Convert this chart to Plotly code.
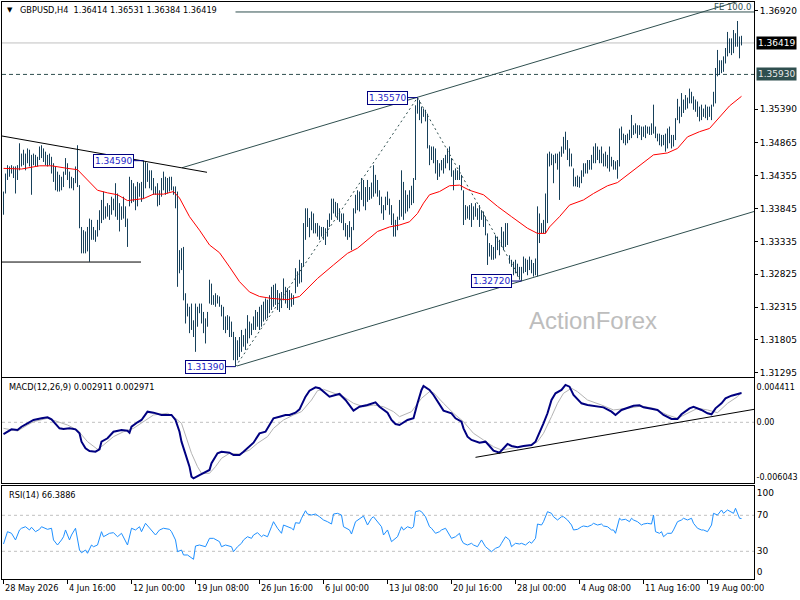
import plotly.graph_objects as go

# ---- data (bar index 0 = 28 May 2026 08:00, H4 bars) ----
highs = [
    1.3411, 1.3439, 1.3452, 1.3450, 1.3452, 1.3450, 1.3450, 1.3452, 1.3486, 1.3470,
    1.3476, 1.3470, 1.3478, 1.3476, 1.3468, 1.3470, 1.3468, 1.3465, 1.3481, 1.3483,
    1.3478, 1.3473, 1.3468, 1.3470, 1.3465, 1.3455, 1.3450, 1.3442, 1.3437, 1.3434,
    1.3442, 1.3463, 1.3455, 1.3442, 1.3434, 1.3432, 1.3450, 1.3483, 1.3421, 1.3356,
    1.3351, 1.3349, 1.3356, 1.3369, 1.3367, 1.3356, 1.3351, 1.3367, 1.3382, 1.3398,
    1.3411, 1.3388, 1.3393, 1.3390, 1.3403, 1.3400, 1.3424, 1.3408, 1.3393, 1.3388,
    1.3403, 1.3388, 1.3369, 1.3434, 1.3429, 1.3424, 1.3419, 1.3426, 1.3424, 1.3426,
    1.3459, 1.3457, 1.3455, 1.3444, 1.3444, 1.3432, 1.3419, 1.3424, 1.3413, 1.3432,
    1.3442, 1.3434, 1.3432, 1.3434, 1.3434, 1.3419, 1.3419, 1.3411, 1.3320, 1.3323,
    1.3325, 1.3253, 1.3237, 1.3232, 1.3237, 1.3211, 1.3237, 1.3232, 1.3237, 1.3237,
    1.3224, 1.3214, 1.3224, 1.3274, 1.3268, 1.3250, 1.3253, 1.3250, 1.3248, 1.3235,
    1.3232, 1.3217, 1.3219, 1.3217, 1.3209, 1.3193, 1.3185, 1.3180, 1.3185, 1.3196,
    1.3188, 1.3198, 1.3219, 1.3209, 1.3206, 1.3217, 1.3227, 1.3224, 1.3232, 1.3235,
    1.3240, 1.3245, 1.3243, 1.3250, 1.3263, 1.3266, 1.3268, 1.3258, 1.3253, 1.3255,
    1.3276, 1.3263, 1.3261, 1.3258, 1.3253, 1.3250, 1.3292, 1.3287, 1.3305, 1.3300,
    1.3362, 1.3385, 1.3385, 1.3370, 1.3380, 1.3377, 1.3362, 1.3362, 1.3358, 1.3356,
    1.3356, 1.3354, 1.3367, 1.3377, 1.3400, 1.3400, 1.3395, 1.3393, 1.3385, 1.3377,
    1.3377, 1.3362, 1.3359, 1.3365, 1.3356, 1.3385, 1.3406, 1.3413, 1.3411, 1.3432,
    1.3429, 1.3418, 1.3429, 1.3418, 1.3425, 1.3452, 1.3437, 1.3429, 1.3413, 1.3403,
    1.3390, 1.3403, 1.3411, 1.3400, 1.3390, 1.3377, 1.3367, 1.3372, 1.3398, 1.3444,
    1.3426, 1.3413, 1.3406, 1.3413, 1.3420, 1.3432, 1.3545, 1.3557, 1.3553, 1.3543,
    1.3540, 1.3538, 1.3532, 1.3483, 1.3481, 1.3481, 1.3478, 1.3460, 1.3455, 1.3460,
    1.3463, 1.3468, 1.3478, 1.3481, 1.3463, 1.3444, 1.3447, 1.3444, 1.3452, 1.3437,
    1.3413, 1.3390, 1.3388, 1.3390, 1.3393, 1.3388, 1.3393, 1.3385, 1.3390, 1.3382,
    1.3380, 1.3372, 1.3346, 1.3331, 1.3328, 1.3325, 1.3343, 1.3341, 1.3336, 1.3356,
    1.3349, 1.3362, 1.3362, 1.3312, 1.3305, 1.3302, 1.3305, 1.3299, 1.3294, 1.3294,
    1.3310, 1.3307, 1.3305, 1.3310, 1.3305, 1.3300, 1.3307, 1.3388, 1.3377, 1.3362,
    1.3367, 1.3408, 1.3470, 1.3473, 1.3470, 1.3468, 1.3470, 1.3470, 1.3473, 1.3481,
    1.3496, 1.3504, 1.3491, 1.3478, 1.3470, 1.3447, 1.3434, 1.3436, 1.3434, 1.3444,
    1.3455, 1.3455, 1.3460, 1.3460, 1.3468, 1.3481, 1.3486, 1.3481, 1.3476, 1.3481,
    1.3470, 1.3473, 1.3468, 1.3481, 1.3465, 1.3460, 1.3458, 1.3460, 1.3509, 1.3512,
    1.3501, 1.3499, 1.3501, 1.3507, 1.3530, 1.3514, 1.3517, 1.3514, 1.3514, 1.3512,
    1.3512, 1.3514, 1.3512, 1.3512, 1.3517, 1.3546, 1.3512, 1.3501, 1.3501, 1.3499,
    1.3499, 1.3501, 1.3509, 1.3512, 1.3499, 1.3499, 1.3525, 1.3555, 1.3543, 1.3564,
    1.3554, 1.3561, 1.3557, 1.3571, 1.3566, 1.3559, 1.3554, 1.3551, 1.3543, 1.3546,
    1.3540, 1.3546, 1.3543, 1.3543, 1.3546, 1.3566, 1.3603, 1.3631, 1.3615, 1.3615,
    1.3621, 1.3634, 1.3659, 1.3649, 1.3649, 1.3662, 1.3657, 1.3676, 1.3652, 1.3653,
]
lows = [
    1.3375, 1.3408, 1.3429, 1.3434, 1.3439, 1.3432, 1.3408, 1.3429, 1.3444, 1.3450,
    1.3452, 1.3444, 1.3455, 1.3450, 1.3406, 1.3452, 1.3450, 1.3450, 1.3460, 1.3463,
    1.3457, 1.3452, 1.3450, 1.3452, 1.3439, 1.3426, 1.3413, 1.3411, 1.3411, 1.3413,
    1.3418, 1.3437, 1.3429, 1.3416, 1.3416, 1.3413, 1.3424, 1.3418, 1.3354, 1.3315,
    1.3315, 1.3315, 1.3318, 1.3302, 1.3336, 1.3336, 1.3333, 1.3341, 1.3351, 1.3362,
    1.3367, 1.3369, 1.3372, 1.3367, 1.3375, 1.3382, 1.3372, 1.3367, 1.3349, 1.3367,
    1.3369, 1.3356, 1.3325, 1.3388, 1.3393, 1.3395, 1.3382, 1.3388, 1.3403, 1.3395,
    1.3400, 1.3416, 1.3426, 1.3416, 1.3413, 1.3406, 1.3406, 1.3388, 1.3390, 1.3403,
    1.3413, 1.3406, 1.3408, 1.3411, 1.3413, 1.3406, 1.3385, 1.3263, 1.3284, 1.3289,
    1.3242, 1.3206, 1.3217, 1.3191, 1.3196, 1.3185, 1.3162, 1.3201, 1.3222, 1.3206,
    1.3191, 1.3175, 1.3201, 1.3237, 1.3235, 1.3235, 1.3232, 1.3237, 1.3232, 1.3217,
    1.3196, 1.3191, 1.3196, 1.3185, 1.3185, 1.3149, 1.3139, 1.3149, 1.3154, 1.3162,
    1.3170, 1.3165, 1.3175, 1.3183, 1.3188, 1.3196, 1.3196, 1.3201, 1.3196, 1.3201,
    1.3209, 1.3212, 1.3214, 1.3222, 1.3227, 1.3232, 1.3235, 1.3227, 1.3224, 1.3230,
    1.3242, 1.3237, 1.3230, 1.3227, 1.3232, 1.3235, 1.3253, 1.3263, 1.3268, 1.3270,
    1.3294, 1.3336, 1.3356, 1.3340, 1.3351, 1.3346, 1.3346, 1.3341, 1.3336, 1.3341,
    1.3336, 1.3328, 1.3341, 1.3356, 1.3367, 1.3377, 1.3372, 1.3367, 1.3364, 1.3362,
    1.3351, 1.3341, 1.3336, 1.3340, 1.3320, 1.3351, 1.3377, 1.3382, 1.3380, 1.3398,
    1.3388, 1.3382, 1.3395, 1.3398, 1.3400, 1.3403, 1.3408, 1.3403, 1.3390, 1.3377,
    1.3367, 1.3382, 1.3390, 1.3375, 1.3359, 1.3341, 1.3341, 1.3351, 1.3367, 1.3372,
    1.3367, 1.3377, 1.3380, 1.3385, 1.3390, 1.3393, 1.3429, 1.3532, 1.3522, 1.3517,
    1.3527, 1.3520, 1.3478, 1.3452, 1.3460, 1.3455, 1.3439, 1.3429, 1.3434, 1.3444,
    1.3439, 1.3447, 1.3455, 1.3444, 1.3434, 1.3413, 1.3429, 1.3429, 1.3429, 1.3413,
    1.3359, 1.3367, 1.3369, 1.3367, 1.3356, 1.3367, 1.3372, 1.3367, 1.3356, 1.3367,
    1.3356, 1.3343, 1.3297, 1.3310, 1.3305, 1.3305, 1.3307, 1.3320, 1.3312, 1.3325,
    1.3320, 1.3325, 1.3328, 1.3299, 1.3294, 1.3281, 1.3284, 1.3279, 1.3274, 1.3272,
    1.3284, 1.3286, 1.3281, 1.3289, 1.3284, 1.3279, 1.3281, 1.3279, 1.3331, 1.3346,
    1.3346, 1.3346, 1.3362, 1.3450, 1.3452, 1.3424, 1.3455, 1.3445, 1.3398, 1.3465,
    1.3470, 1.3476, 1.3460, 1.3450, 1.3450, 1.3419, 1.3419, 1.3418, 1.3417, 1.3424,
    1.3434, 1.3439, 1.3439, 1.3445, 1.3445, 1.3455, 1.3455, 1.3460, 1.3455, 1.3455,
    1.3450, 1.3450, 1.3447, 1.3442, 1.3450, 1.3445, 1.3445, 1.3431, 1.3450, 1.3491,
    1.3486, 1.3483, 1.3486, 1.3491, 1.3494, 1.3499, 1.3501, 1.3494, 1.3499, 1.3491,
    1.3496, 1.3494, 1.3501, 1.3499, 1.3499, 1.3501, 1.3494, 1.3489, 1.3483, 1.3481,
    1.3483, 1.3473, 1.3478, 1.3486, 1.3478, 1.3481, 1.3491, 1.3522, 1.3517, 1.3527,
    1.3533, 1.3538, 1.3540, 1.3548, 1.3548, 1.3538, 1.3535, 1.3527, 1.3520, 1.3522,
    1.3527, 1.3525, 1.3522, 1.3527, 1.3522, 1.3543, 1.3548, 1.3590, 1.3592, 1.3595,
    1.3597, 1.3610, 1.3621, 1.3626, 1.3623, 1.3626, 1.3636, 1.3636, 1.3618, 1.3638,
]

# red moving average
ma_idx = [0, 9, 18, 24, 32, 37, 42, 47, 52, 57, 62, 65, 70, 75, 80, 85, 88, 93, 98, 103,
          108, 113, 118, 123, 128, 134, 142, 148, 157, 165, 172, 177, 182, 187, 193, 198, 203, 207, 210, 213,
          218, 223, 228, 233, 240, 247, 254, 262, 267, 271, 273, 278, 283, 290, 295, 302, 307, 312, 318, 325,
          332, 337, 342, 348, 353, 358, 363, 369]
ma_val = [1.3447, 1.3446, 1.3451, 1.3451, 1.3447, 1.3445, 1.3429, 1.3413, 1.3409, 1.3406,
          1.3397, 1.3398, 1.3400, 1.3407, 1.3407, 1.3411, 1.3401, 1.3372, 1.3351, 1.3328,
          1.3316, 1.3294, 1.3271, 1.3255, 1.3248, 1.3245, 1.3243, 1.3248, 1.3276, 1.3297,
          1.3315, 1.3323, 1.3336, 1.3349, 1.3356, 1.3359, 1.3364, 1.3377, 1.3393, 1.3406,
          1.3411, 1.3420, 1.3421, 1.3413, 1.3406, 1.3388, 1.3372, 1.3354, 1.3346, 1.3346,
          1.3356, 1.3372, 1.3390, 1.3398, 1.3408, 1.3420, 1.3425, 1.3437, 1.3452, 1.3468,
          1.3471, 1.3478, 1.3496, 1.3504, 1.3509, 1.3527, 1.3544, 1.3559]

# MACD(12,26,9) main line and signal
macd_idx = [0, 2, 4, 7, 9, 12, 15, 19, 22, 24, 26, 28, 30, 33, 36, 38, 39, 41, 43, 46,
            48, 49, 52, 55, 59, 62, 63, 64, 67, 69, 72, 75, 79, 82, 84, 86, 88, 89, 91, 93,
            94, 95, 98, 101, 103, 104, 107, 109, 113, 115, 118, 120, 123, 125, 128, 131, 133, 135, 138, 141,
            143, 146, 148, 151, 153, 156, 158, 161, 163, 166, 168, 171, 175, 178, 182, 186, 188, 192, 194, 196,
            198, 202, 205, 207, 209, 210, 213, 215, 218, 220, 224, 226, 229, 230, 232, 234, 238, 241, 243, 245,
            248, 250, 252, 254, 257, 260, 264, 266, 268, 270, 272, 274, 276, 279, 281, 283, 285, 289, 292, 297,
            300, 304, 306, 309, 312, 315, 318, 320, 324, 327, 330, 334, 337, 339, 343, 345, 349, 352, 354, 356,
            359, 361, 364, 367, 369]
macd_val = [-0.00117, -0.00094, -0.00070, -0.00077, -0.00044, -0.00010, 0.00023, 0.00040, 0.00050, 0.00030,
            -0.00010, -0.00060, -0.00067, -0.00060, -0.00070, -0.00110, -0.00193, -0.00259, -0.00286, -0.00293,
            -0.00269, -0.00193, -0.00159, -0.00094, -0.00077, -0.00084, -0.00104, -0.00044, 0.00000, 0.00023,
            0.00106, 0.00096, 0.00073, 0.00073, 0.00073, 0.00023, -0.00094, -0.00193, -0.00309, -0.00442,
            -0.00542, -0.00558, -0.00525, -0.00492, -0.00475, -0.00408, -0.00309, -0.00293, -0.00303, -0.00326,
            -0.00326, -0.00293, -0.00243, -0.00203, -0.00110, -0.00094, -0.00027, 0.00040, 0.00056, 0.00073,
            0.00073, 0.00096, 0.00129, 0.00255, 0.00315, 0.00349, 0.00339, 0.00289, 0.00255, 0.00272,
            0.00282, 0.00222, 0.00116, 0.00155, 0.00172, 0.00199, 0.00155, 0.00096, 0.00023, -0.00017,
            -0.00027, 0.00023, 0.00040, 0.00189, 0.00322, 0.00362, 0.00322, 0.00272, 0.00172, 0.00116,
            0.00090, 0.00040, 0.00006, -0.00060, -0.00143, -0.00176, -0.00203, -0.00193, -0.00236, -0.00283,
            -0.00303, -0.00259, -0.00216, -0.00236, -0.00249, -0.00236, -0.00226, -0.00193, -0.00110, -0.00010,
            0.00090, 0.00222, 0.00289, 0.00322, 0.00372, 0.00355, 0.00272, 0.00189, 0.00172, 0.00162,
            0.00149, 0.00106, 0.00073, 0.00123, 0.00145, 0.00165, 0.00169, 0.00149, 0.00135, 0.00123,
            0.00073, 0.00033, 0.00033, 0.00080, 0.00139, 0.00155, 0.00123, 0.00090, 0.00080, 0.00139,
            0.00189, 0.00239, 0.00265, 0.00282, 0.00291]
sig_idx = [0, 7, 12, 15, 22, 26, 32, 37, 42, 47, 50, 55, 60, 65, 70, 75, 82, 85, 89, 91,
           94, 97, 99, 103, 106, 109, 113, 118, 123, 127, 132, 135, 140, 145, 149, 154, 157, 160, 165, 170,
           175, 180, 185, 190, 195, 198, 204, 209, 213, 215, 220, 225, 230, 235, 240, 245, 249, 254, 259, 264,
           267, 270, 274, 277, 280, 284, 287, 292, 299, 305, 312, 319, 325, 332, 337, 342, 347, 352, 357, 362,
           367, 369]
sig_val = [-0.00060, -0.00087, -0.00027, 0.00006, 0.00040, 0.00016, -0.00027, -0.00077, -0.00193, -0.00269,
           -0.00226, -0.00143, -0.00094, -0.00060, 0.00006, 0.00073, 0.00090, 0.00056, -0.00010, -0.00126,
           -0.00309, -0.00442, -0.00508, -0.00508, -0.00442, -0.00359, -0.00309, -0.00316, -0.00276, -0.00209,
           -0.00143, -0.00060, 0.00023, 0.00073, 0.00106, 0.00222, 0.00315, 0.00329, 0.00289, 0.00255,
           0.00189, 0.00155, 0.00172, 0.00155, 0.00106, 0.00056, 0.00106, 0.00239, 0.00305, 0.00295,
           0.00189, 0.00090, 0.00006, -0.00110, -0.00176, -0.00243, -0.00276, -0.00259, -0.00249, -0.00226,
           -0.00193, -0.00110, 0.00056, 0.00189, 0.00289, 0.00339, 0.00305, 0.00222, 0.00172, 0.00123,
           0.00139, 0.00162, 0.00139, 0.00073, 0.00040, 0.00090, 0.00139, 0.00123, 0.00096, 0.00189,
           0.00255, 0.00297]

# RSI(14)
rsi_idx = [0, 2, 4, 6, 8, 9, 11, 13, 14, 16, 18, 19, 22, 24, 25, 27, 29, 30, 31, 33,
           34, 36, 38, 39, 41, 42, 44, 45, 47, 49, 50, 53, 55, 57, 59, 60, 62, 64, 66, 68,
           69, 71, 73, 74, 76, 78, 80, 83, 84, 86, 87, 89, 90, 92, 93, 95, 96, 98, 101, 103,
           105, 108, 109, 111, 114, 115, 117, 119, 120, 122, 124, 125, 127, 129, 130, 132, 134, 135, 137, 139,
           140, 142, 144, 145, 146, 148, 149, 151, 152, 154, 156, 158, 160, 162, 164, 165, 167, 169, 170, 173,
           174, 176, 178, 180, 182, 184, 185, 187, 189, 190, 192, 194, 197, 198,
           199, 200, 202, 204, 205, 206, 208, 209, 211, 213, 214, 216, 218, 219, 221, 223, 224, 226, 228, 229,
           230, 232, 234, 235, 237, 238, 239, 241, 243, 244, 246, 248, 249, 251, 253, 254, 256, 258, 259, 261,
           263, 264, 266, 267, 269, 270, 272, 274, 275, 277, 279, 280, 282, 284, 285, 287, 289, 290, 292, 294,
           295, 297, 299, 300, 302, 304, 305, 306, 308, 309, 311, 313, 314, 315, 317, 319, 320, 322, 324, 325,
           326, 328, 329, 330, 332, 334, 335, 337, 339, 340, 342, 344, 345, 347, 349, 350, 352, 354, 355, 357,
           359, 360, 362, 364, 365, 366, 368, 369]
rsi_val = [38.1, 51.8, 50.0, 42.6, 53.7, 55.6, 57.3, 53.7, 56.7, 51.8, 54.4, 57.3, 54.4, 55.6, 42.6, 37.0, 42.6, 46.2, 53.7, 42.6,
           48.1, 55.6, 31.4, 28.4, 31.4, 27.8, 37.0, 35.1, 37.0, 51.8, 46.2, 50.0, 50.7, 46.2, 50.0, 46.2, 37.0, 55.6, 53.7, 57.3,
           51.8, 61.1, 55.6, 53.7, 48.1, 53.7, 55.6, 54.4, 51.8, 42.6, 29.6, 31.4, 25.9, 25.9, 24.0, 21.1, 35.9, 37.0, 35.1, 44.4,
           44.4, 40.7, 35.1, 37.0, 35.1, 29.6, 35.1, 38.9, 42.6, 46.2, 44.4, 48.1, 50.7, 46.2, 48.1, 46.2, 57.3, 62.9, 55.6, 50.0,
           59.2, 57.3, 55.6, 53.7, 61.8, 61.1, 66.7, 75.1, 71.4, 70.3, 71.4, 68.4, 64.8, 62.9, 60.3, 71.4, 72.2, 70.3, 57.3, 53.7,
           49.2, 62.9, 65.6, 69.2, 59.2, 66.7, 68.4, 62.9, 57.3, 48.1, 53.7, 40.7, 46.2, 51.8,
           57.3, 53.7, 57.3, 55.6, 57.3, 74.0, 75.1, 74.0, 68.4, 57.3, 55.6, 50.0, 51.8, 53.7, 55.6, 48.1, 44.4, 46.2, 50.0, 42.6,
           38.9, 37.0, 38.9, 37.0, 35.1, 38.9, 42.6, 35.1, 31.4, 29.6, 33.3, 35.1, 38.9, 46.2, 42.6, 35.1, 38.9, 38.1, 38.9, 37.0,
           40.7, 38.9, 44.4, 60.3, 59.2, 62.9, 74.0, 72.2, 68.4, 64.8, 68.4, 68.4, 64.8, 59.2, 53.7, 54.4, 57.3, 58.1, 57.3, 59.2,
           61.1, 59.2, 60.3, 58.1, 57.3, 53.7, 53.7, 50.0, 66.7, 64.8, 65.6, 62.9, 66.7, 64.8, 62.9, 59.2, 60.3, 61.1, 60.3, 70.3,
           51.8, 50.0, 51.8, 46.2, 50.0, 50.0, 53.7, 62.9, 64.8, 66.7, 64.8, 66.7, 61.1, 55.6, 53.7, 53.7, 51.8, 59.2, 72.2, 70.3,
           75.9, 72.2, 75.9, 74.0, 72.2, 77.8, 66.7, 66.4]

# swing labels (bar index, price)
swing_idx = [70, 207, 259, 116]
swing_px = [1.34590, 1.35570, 1.32720, 1.31390]

# drawn objects: (x0, y0, x1, y1)
channel_upper = (89.25, 1.3448, 375.25, 1.3714)
channel_lower = (116.75, 1.3140, 375.25, 1.3380)
falling_line = (-0.75, 1.34973, 101.75, 1.34409)
support_line = (-0.75, 1.33015, 68.75, 1.33015)
fe_level = 1.3690
fe_start = 116
macd_trend = (236, -0.00349, 375.25, 0.00129)
bid = 1.36419
level = 1.35930

price_ticks = [1.36920, 1.35390, 1.34865, 1.34355, 1.33845, 1.33335, 1.32825, 1.32315, 1.31805, 1.31295]
time_idx = [0, 32, 64, 96, 128, 160, 192, 224, 256, 288, 320, 352]
time_text = ["28 May 2026", "4 Jun 16:00", "12 Jun 00:00", "19 Jun 08:00", "26 Jun 16:00", "6 Jul 00:00",
             "13 Jul 08:00", "20 Jul 16:00", "28 Jul 00:00", "4 Aug 08:00", "11 Aug 16:00", "19 Aug 00:00"]

# ---- layout geometry (pixels) ----
W, H = 800, 600
ML, MR, MT, MB = 2, 46, 2, 21
PW, PH = W - ML - MR, H - MT - MB
XR = [-0.75, 375.25]
FONT = "DejaVu Sans"
DSG = "#2f4f4f"
TXT = 8.2


def px_x(p):
    return (p - ML) / PW


def px_y(p):
    return (H - MB - p) / PH


fig = go.Figure()


def seg(x0, y0, x1, y1, color, width=1, dash="solid", ax=("x", "y")):
    fig.add_trace(go.Scatter(x=[x0, x1], y=[y0, y1], mode="lines", xaxis=ax[0], yaxis=ax[1],
                             line=dict(color=color, width=width, dash=dash), hoverinfo="skip"))


# price bars (high-low)
bx, by = [], []
for i, (lo, hi) in enumerate(zip(lows, highs)):
    bx += [i, i, None]
    by += [lo, hi, None]

seg(XR[0], bid, XR[1], bid, "#c0c0c0")
seg(XR[0], level, XR[1], level, DSG, dash="4px,3px")
fig.add_trace(go.Scatter(x=bx, y=by, mode="lines", line=dict(color="#17405a", width=1),
                         hoverinfo="skip"))
fig.add_trace(go.Scatter(x=ma_idx, y=ma_val, mode="lines", line=dict(color="#ff0000", width=1),
                         hoverinfo="skip"))

seg(*channel_upper, DSG)
seg(*channel_lower, DSG)
seg(*falling_line, "#000000")
seg(*support_line, "#000000")
seg(fe_start, fe_level, XR[1], fe_level, DSG)
fig.add_trace(go.Scatter(x=[swing_idx[3], swing_idx[1], swing_idx[2]],
                         y=[swing_px[3], swing_px[1], swing_px[2]], mode="lines",
                         line=dict(color=DSG, width=1, dash="2px,3px"), hoverinfo="skip"))
for si, sp in zip(swing_idx, swing_px):
    seg(si - 5, sp, si, sp, "#000080")

# MACD
seg(XR[0], 0, XR[1], 0, "#c0c0c0", dash="3px,3px", ax=("x2", "y2"))
fig.add_trace(go.Scatter(x=sig_idx, y=sig_val, mode="lines", xaxis="x2", yaxis="y2",
                         line=dict(color="#b4b4b4", width=1), hoverinfo="skip"))
fig.add_trace(go.Scatter(x=macd_idx, y=macd_val, mode="lines", xaxis="x2", yaxis="y2",
                         line=dict(color="#000080", width=2), hoverinfo="skip"))
seg(*macd_trend, "#000000", ax=("x2", "y2"))

# RSI
for lv in (70, 30):
    seg(XR[0], lv, XR[1], lv, "#c0c0c0", dash="3px,3px", ax=("x3", "y3"))
fig.add_trace(go.Scatter(x=rsi_idx, y=rsi_val, mode="lines", xaxis="x3", yaxis="y3",
                         line=dict(color="#1e90ff", width=1), hoverinfo="skip"))

ann = []
# header texts
ann.append(dict(x=px_x(10), y=px_y(10), text="▼", font=dict(size=7), xanchor="center"))
ann.append(dict(x=px_x(18), y=px_y(10), text="GBPUSD,H4  1.36414 1.36531 1.36384 1.36419",
                font=dict(size=TXT), xanchor="left"))
ann.append(dict(x=px_x(7), y=px_y(387), text="MACD(12,26,9) 0.002911 0.002971",
                font=dict(size=TXT), xanchor="left"))
ann.append(dict(x=px_x(7), y=px_y(495), text="RSI(14) 66.3886", font=dict(size=TXT), xanchor="left"))
for a in ann:
    a.update(xref="paper", yref="paper", showarrow=False, yanchor="middle")

# time labels
for ti, tt in zip(time_idx, time_text):
    ann.append(dict(x=ti, y=px_y(588), xref="x3", yref="paper", text=tt, showarrow=False,
                    xanchor="left", yanchor="middle", xshift=-1, font=dict(size=TXT)))

# swing labels
for si, sp in zip(swing_idx, swing_px):
    ann.append(dict(x=si - 5, y=sp, xref="x", yref="y", text=f"{sp:.5f}", showarrow=False,
                    xanchor="right", yanchor="middle", bgcolor="white", bordercolor="#000080",
                    borderwidth=1, borderpad=1, font=dict(size=9, color="#1c1cc8")))

# right-side price boxes
ann.append(dict(x=1, y=bid, xref="paper", yref="y", text=f"{bid:.5f}", showarrow=False,
                xanchor="left", yanchor="middle", xshift=2, bgcolor="#000000", borderpad=1,
                font=dict(size=9, color="white")))
ann.append(dict(x=1, y=level, xref="paper", yref="y", text=f"{level:.5f}", showarrow=False,
                xanchor="left", yanchor="middle", xshift=2, bgcolor=DSG, borderpad=1,
                font=dict(size=9, color="#e8e8e8")))
ann.append(dict(x=XR[1], y=fe_level, xref="x", yref="y", text="FE 100.0", showarrow=False,
                xanchor="right", yanchor="bottom", xshift=-1, yshift=-2, font=dict(size=8.5, color=DSG)))
ann.append(dict(x=px_x(593), y=px_y(320), xref="paper", yref="paper", text="ActionForex",
                showarrow=False, xanchor="center", yanchor="middle",
                font=dict(family="Liberation Sans", size=24, color="#bdbdbd")))

xcommon = dict(range=XR, showgrid=False, zeroline=False, showline=True, mirror=True,
               linecolor="black", linewidth=1, showticklabels=False, ticks="", automargin=False,
               domain=[0, 1])
ycommon = dict(showgrid=False, zeroline=False, showline=True, mirror=True, linecolor="black",
               linewidth=1, side="right", automargin=False, tickfont=dict(size=9, color="black"))

fig.update_layout(
    width=W, height=H, template="none", showlegend=False,
    margin=dict(l=ML, r=MR, t=MT, b=MB),
    paper_bgcolor="white", plot_bgcolor="white",
    font=dict(family=FONT, size=9, color="black"),
    xaxis=dict(xcommon, anchor="y"),
    xaxis2=dict(xcommon, anchor="y2", matches="x"),
    xaxis3=dict(xcommon, anchor="y3", matches="x", ticks="outside", ticklen=4, tickcolor="black",
                tickvals=time_idx),
    yaxis=dict(ycommon, anchor="x", domain=[(H - MB - 377) / PH, 1.0],
               range=[1.31229, 1.37055], tickvals=price_ticks,
               ticktext=[f"{v:.5f}" for v in price_ticks], ticks="outside", ticklen=3,
               tickcolor="black"),
    yaxis2=dict(ycommon, anchor="x2", domain=[(H - MB - 483) / PH, (H - MB - 378) / PH],
                range=[-0.006046, 0.004412], tickvals=[0.003546, 0, -0.005478],
                ticktext=["0.004411", "0.00", "-0.006043"], ticks="",
                tickfont=dict(size=8, color="black")),
    yaxis3=dict(ycommon, anchor="x3", domain=[0, (H - MB - 486) / PH],
                range=[-0.78, 102.56], tickvals=[94.4, 70, 30, 6.7],
                ticktext=["100", "70", "30", "0"], ticks=""),
    annotations=ann,
)

# the page's default 8px body margin would shift the chart off the 800x600 window
fig.write_html("out.html", config={"displayModeBar": False},
               post_script="document.body.style.margin='0';")
